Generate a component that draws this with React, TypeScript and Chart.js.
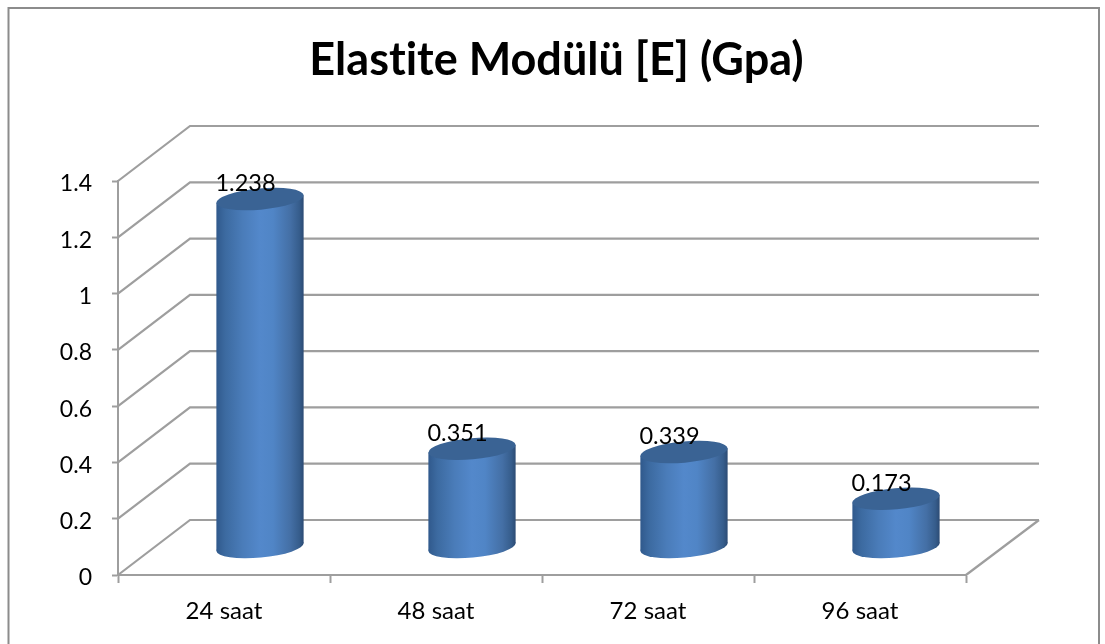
import React, { useEffect, useRef } from "react";
import { Chart, registerables, BarController, BarElement } from "chart.js";

const categories = ["24 saat", "48 saat", "72 saat", "96 saat"];
const modulusValues = [1.238, 0.351, 0.339, 0.173];
const yTickLabels = ["0", "0.2", "0.4", "0.6", "0.8", "1", "1.2", "1.4"];
const chartTitle = "Elastite Modülü [E] (Gpa)";
const yMin = 0;
const yMax = 1.4;
const yStep = 0.2;

const FONT = "Lato, Carlito, sans-serif";
const GRID = "#9e9e9e";
const DEPTH_X = 72;
const DEPTH_Y = 55;

// Bar element that renders itself as a cylinder standing mid-way through the floor depth.
class CylinderElement extends BarElement {
  static id = "cylinder";
  draw(ctx: CanvasRenderingContext2D) {
    const { x, y, base, width } = (this as any).getProps(["x", "y", "base", "width"]);
    const cx = x + DEPTH_X / 2;
    const topY = y - DEPTH_Y / 2;
    const botY = base - DEPTH_Y / 2;
    const a = width / 2 - 0.2;
    const b = 10.6;
    const rot = (-5.2 * Math.PI) / 180;
    // Horizontal extremes of the tilted ellipse
    const t = Math.atan2(-b * Math.sin(rot), a * Math.cos(rot));
    const ex = a * Math.cos(t) * Math.cos(rot) - b * Math.sin(t) * Math.sin(rot);
    const ey = a * Math.cos(t) * Math.sin(rot) + b * Math.sin(t) * Math.cos(rot);

    const side = ctx.createLinearGradient(cx - ex, 0, cx + ex, 0);
    side.addColorStop(0, "#30598c");
    side.addColorStop(0.1, "#3c6aa0");
    side.addColorStop(0.3, "#4a7cb9");
    side.addColorStop(0.5, "#5388cb");
    side.addColorStop(0.65, "#5085c6");
    side.addColorStop(0.85, "#446fa5");
    side.addColorStop(0.95, "#365d8c");
    side.addColorStop(1, "#2c4b74");

    ctx.save();
    ctx.fillStyle = side;
    ctx.beginPath();
    ctx.ellipse(cx, botY, a, b, rot, 0, Math.PI * 2);
    ctx.fill();
    ctx.beginPath();
    ctx.moveTo(cx - ex, topY - ey);
    ctx.lineTo(cx + ex, topY + ey);
    ctx.lineTo(cx + ex, botY + ey);
    ctx.lineTo(cx - ex, botY - ey);
    ctx.closePath();
    ctx.fill();
    ctx.fillStyle = "#3a6394";
    ctx.beginPath();
    ctx.ellipse(cx, topY, a, b, rot, 0, Math.PI * 2);
    ctx.fill();
    ctx.restore();
  }
}

class CylinderController extends BarController {
  static id = "cylinder";
  static defaults = { ...BarController.defaults, dataElementType: "cylinder" };
  static overrides = BarController.overrides;
}

Chart.register(...registerables, CylinderElement, CylinderController);

// Outer frame of the chart; its bottom edge runs past the canvas.
const framePlugin = {
  id: "frame",
  afterLayout(chart: any) {
    // The title centres on the whole frame, not on the plot and its right margin.
    chart.titleBlock.right = chart.width;
  },
  beforeDraw(chart: any) {
    const { ctx, width, height } = chart;
    // A non-zero spacing keeps the "ti" in the title as two separate letters.
    ctx.letterSpacing = "0.01px";
    ctx.save();
    ctx.fillStyle = "#ffffff";
    ctx.fillRect(0, 0, width, height);
    ctx.strokeStyle = "#8c8c8c";
    ctx.lineWidth = 2;
    ctx.beginPath();
    ctx.moveTo(8.5, height + 2);
    ctx.lineTo(8.5, 8);
    ctx.lineTo(1099, 8);
    ctx.lineTo(1099, height + 2);
    ctx.stroke();
    ctx.restore();
  },
};

// Back wall, side wall and floor lines, projected from the value scale.
const wallsPlugin = {
  id: "walls",
  beforeDatasetsDraw(chart: any) {
    const { ctx, chartArea, scales } = chart;
    const { left, right, bottom } = chartArea;
    ctx.save();
    ctx.strokeStyle = GRID;
    ctx.lineWidth = 2.2;
    ctx.beginPath();
    scales.y.ticks.forEach((tick: any) => {
      const py = scales.y.getPixelForValue(tick.value);
      ctx.moveTo(left, py);
      ctx.lineTo(left + DEPTH_X, py - DEPTH_Y);
      ctx.lineTo(right + DEPTH_X + 1, py - DEPTH_Y);
    });
    ctx.moveTo(right, bottom);
    ctx.lineTo(right + DEPTH_X + 1, bottom - DEPTH_Y);
    ctx.stroke();
    ctx.restore();
  },
};

// Value labels written over the cylinder tops.
const valueLabelPlugin = {
  id: "valueLabels",
  afterDatasetsDraw(chart: any) {
    const { ctx } = chart;
    const meta = chart.getDatasetMeta(0);
    ctx.save();
    ctx.fillStyle = "#000000";
    ctx.font = `23.5px ${FONT}`;
    ctx.textAlign = "center";
    ctx.textBaseline = "middle";
    meta.data.forEach((el: any, i: number) => {
      ctx.fillText(String(modulusValues[i]), el.x + 21.5, el.y - 43);
    });
    ctx.restore();
  },
};

export default function App() {
  const ref = useRef<HTMLCanvasElement>(null);
  useEffect(() => {
    const chart = new Chart(ref.current as HTMLCanvasElement, {
      type: "cylinder" as any,
      data: {
        labels: categories,
        datasets: [
          {
            label: "Elastite Modülü",
            data: modulusValues,
            categoryPercentage: 1,
            barPercentage: 0.415,
            backgroundColor: "#5388cb",
          },
        ],
      },
      plugins: [framePlugin, wallsPlugin, valueLabelPlugin],
      options: {
        animation: false,
        responsive: false,
        layout: { padding: { left: 8, right: 139, top: 0, bottom: 0 } },
        plugins: {
          legend: { display: false },
          tooltip: { enabled: false },
          title: {
            display: true,
            text: chartTitle,
            color: "#000000",
            font: { family: FONT, size: 45, weight: "bold" },
            padding: { top: 33, bottom: 94 },
          },
        },
        scales: {
          x: {
            type: "category",
            afterFit: (s: any) => {
              s.height = 69;
            },
            grid: {
              drawOnChartArea: false,
              drawTicks: true,
              tickLength: 8,
              tickWidth: 2,
              tickColor: GRID,
              offset: true,
            },
            border: { display: true, color: GRID, width: 2 },
            ticks: {
              color: "#000000",
              font: { family: FONT, size: 24 },
              padding: 14,
              maxRotation: 0,
            },
          },
          y: {
            type: "linear",
            min: yMin,
            max: yMax,
            afterFit: (s: any) => {
              s.width = 110;
            },
            grid: {
              drawOnChartArea: false,
              drawTicks: true,
              tickLength: 6,
              tickWidth: 2,
              tickColor: GRID,
            },
            border: { display: true, color: GRID, width: 2 },
            ticks: {
              stepSize: yStep,
              color: "#000000",
              font: { family: FONT, size: 23 },
              padding: 20,
              labelOffset: 3,
              callback: (_v: any, i: number) => yTickLabels[i],
            },
          },
        },
      },
    } as any);
    return () => chart.destroy();
  }, []);
  return (
    <div style={{ position: "fixed", left: 0, top: 0 }}>
      <canvas ref={ref} width={1105} height={644} style={{ display: "block" }} />
    </div>
  );
}
